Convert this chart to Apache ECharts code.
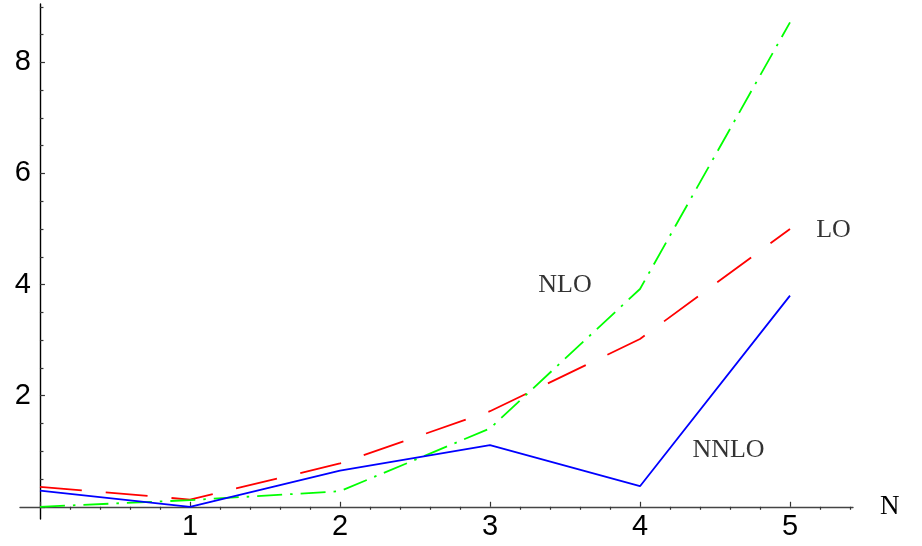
<!DOCTYPE html>
<html>
<head>
<meta charset="utf-8">
<script src="https://cdn.jsdelivr.net/npm/echarts@6/dist/echarts.min.js"></script>
<style>
  html, body { margin: 0; padding: 0; background: #fff; }
  #chart { width: 922px; height: 546px; }
</style>
</head>
<body>
<div id="chart"></div>
<script>
// N values and the three orders
var nValues = [0, 1, 2, 3, 4, 5];
var loValues = [0.36, 0.13, 0.78, 1.72, 3.02, 5.0];
var nloValues = [0.0, 0.12, 0.28, 1.41, 3.92, 8.72];
var nnloValues = [0.29, 0.0, 0.65, 1.11, 0.37, 3.80];

// tick positions
var xMajorTicks = [0, 1, 2, 3, 4, 5];
var xTickLabels = [1, 2, 3, 4, 5];
var xMinorTicks = [0.2, 0.4, 0.6, 0.8, 1.2, 1.4, 1.6, 1.8, 2.2, 2.4, 2.6, 2.8,
                   3.2, 3.4, 3.6, 3.8, 4.2, 4.4, 4.6, 4.8, 5.2, 5.4];
var yMajorTicks = [0, 2, 4, 6, 8];
var yTickLabels = [2, 4, 6, 8];
var yMinorTicks = [0.5, 1, 1.5, 2.5, 3, 3.5, 4.5, 5, 5.5, 6.5, 7, 7.5, 8.5, 9];

// curve labels [x, y, text]
var curveLabels = [[3.50, 3.99, 'NLO'], [5.29, 4.98, 'LO'], [4.59, 1.01, 'NNLO']];

function pairs(ys) {
    return nValues.map(function (n, i) { return [n, ys[i]]; });
}

var chart = echarts.init(document.getElementById('chart'));

var tickFont = 'Liberation Sans';
var textFont = 'Liberation Serif';
var xRange = { min: -0.133, max: 5.42 };
var yRange = { min: -0.22, max: 9.05 };

var option = {
    animation: false,
    backgroundColor: '#fff',
    grid: { left: 20, right: 69, top: 4, bottom: 27, containLabel: false, outerBoundsMode: 'none' },
    xAxis: [{
        type: 'value',
        min: xRange.min, max: xRange.max,
        name: 'N',
        nameLocation: 'end',
        nameGap: 27,
        nameTextStyle: { fontFamily: textFont, fontSize: 27, color: '#000', verticalAlign: 'middle' },
        axisLine: { show: true, onZero: true, onZeroAxisIndex: 0, lineStyle: { color: '#444', width: 1.4 } },
        axisTick: { show: true, inside: true, length: 5, customValues: xMajorTicks, lineStyle: { color: '#333', width: 1.2 } },
        // labels sit at the grid edge, pull them back up to the zero line
        axisLabel: { show: true, customValues: xTickLabels, margin: -7, fontFamily: tickFont, fontSize: 29, color: '#000' },
        splitLine: { show: false }
    }, {
        type: 'value',
        min: xRange.min, max: xRange.max,
        axisLine: { show: false, onZero: true, onZeroAxisIndex: 0 },
        axisTick: { show: true, inside: true, length: 3, customValues: xMinorTicks, lineStyle: { color: '#333', width: 1.2 } },
        axisLabel: { show: false },
        splitLine: { show: false }
    }],
    yAxis: [{
        type: 'value',
        min: yRange.min, max: yRange.max,
        axisLine: { show: true, onZero: true, onZeroAxisIndex: 0, lineStyle: { color: '#000', width: 1.4 } },
        axisTick: { show: true, inside: true, length: 5, customValues: yMajorTicks, lineStyle: { color: '#333', width: 1.2 } },
        axisLabel: { show: true, customValues: yTickLabels, margin: -11, fontFamily: tickFont, fontSize: 29, color: '#000' },
        splitLine: { show: false }
    }, {
        type: 'value',
        min: yRange.min, max: yRange.max,
        position: 'left',
        axisLine: { show: false, onZero: true, onZeroAxisIndex: 0 },
        axisTick: { show: true, inside: true, length: 3.5, customValues: yMinorTicks, lineStyle: { color: '#333', width: 1.2 } },
        axisLabel: { show: false },
        splitLine: { show: false }
    }],
    series: [
        {
            name: 'LO', type: 'line', symbol: 'none', xAxisIndex: 0, yAxisIndex: 0,
            lineStyle: { color: '#ff0000', width: 1.8, type: [42, 24], cap: 'butt' },
            data: pairs(loValues)
        },
        {
            name: 'NLO', type: 'line', symbol: 'none', xAxisIndex: 0, yAxisIndex: 0,
            lineStyle: { color: '#00ff00', width: 1.8, type: [25, 8, 2.5, 8], cap: 'butt' },
            data: pairs(nloValues)
        },
        {
            name: 'NNLO', type: 'line', symbol: 'none', xAxisIndex: 0, yAxisIndex: 0,
            lineStyle: { color: '#0000ff', width: 1.8, type: 'solid' },
            data: pairs(nnloValues)
        },
        {
            name: 'labels', type: 'scatter', symbolSize: 0, silent: true, xAxisIndex: 0, yAxisIndex: 0,
            label: {
                show: true, position: 'inside', align: 'center', verticalAlign: 'middle',
                fontFamily: textFont, fontSize: 26, color: '#000',
                formatter: function (p) { return p.value[2]; }
            },
            data: curveLabels
        }
    ]
};

chart.setOption(option);
</script>
</body>
</html>
